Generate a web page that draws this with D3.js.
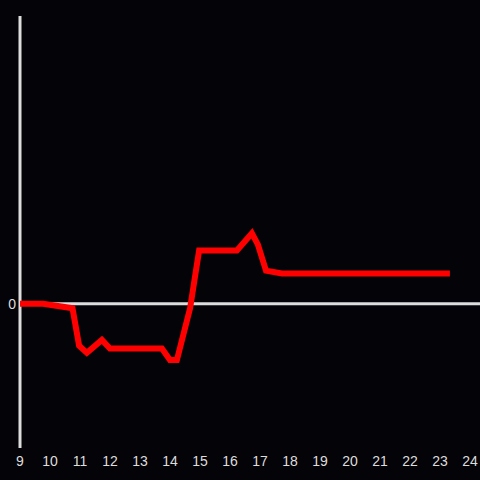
<!DOCTYPE html>
<html><head><meta charset="utf-8">
<script src="https://cdn.jsdelivr.net/npm/d3@7"></script>
<style>body{margin:0;background:#040307;}svg{display:block;}</style>
</head><body>
<script>
const xValues = [9, 9.77, 10.75, 10.97, 11.23, 11.73, 12.0, 13.73, 14.0, 14.23, 14.67, 14.97, 16.23, 16.73, 16.93, 17.2, 17.73, 23.33];
const yValues = [0, 0, -0.03, -0.29, -0.34, -0.25, -0.31, -0.31, -0.39, -0.39, -0.03, 0.37, 0.37, 0.49, 0.41, 0.23, 0.21, 0.21];
const xTicks = [9,10,11,12,13,14,15,16,17,18,19,20,21,22,23,24];
const yTicks = [0];

const W = 480, H = 480;
const svg = d3.select("body").append("svg").attr("width", W).attr("height", H)
  .style("background", "#040307");
const x = d3.scaleLinear().domain([9, 24]).range([20, 470]);
const y = d3.scaleLinear().domain([-1, 2]).range([448, 15.5]);
const data = xValues.map((v, i) => ({x: v, y: yValues[i]}));

// y axis line
svg.append("line").attr("x1", x(9)).attr("x2", x(9)).attr("y1", 16).attr("y2", 448)
  .attr("stroke", "#dddddd").attr("stroke-width", 3);
// zero line
svg.append("line").attr("x1", x(9)).attr("x2", W).attr("y1", y(0)).attr("y2", y(0))
  .attr("stroke", "#dddddd").attr("stroke-width", 3);

svg.selectAll("text.yt").data(yTicks).enter().append("text")
  .attr("x", 16).attr("y", d => y(d)).attr("dy", "0.35em")
  .attr("text-anchor", "end").attr("fill", "#dddddd")
  .style("font", "14px 'Liberation Sans', Arial, sans-serif").text(d => d);

svg.selectAll("text.xt").data(xTicks).enter().append("text")
  .attr("x", d => x(d)).attr("y", 466)
  .attr("text-anchor", "middle").attr("fill", "#dddddd")
  .style("font", "14px 'Liberation Sans', Arial, sans-serif").text(d => d);

svg.append("path").datum(data)
  .attr("d", d3.line().x(d => x(d.x)).y(d => y(d.y)))
  .attr("fill", "none").attr("stroke", "#ff0000").attr("stroke-width", 6);
</script>
</body></html>
